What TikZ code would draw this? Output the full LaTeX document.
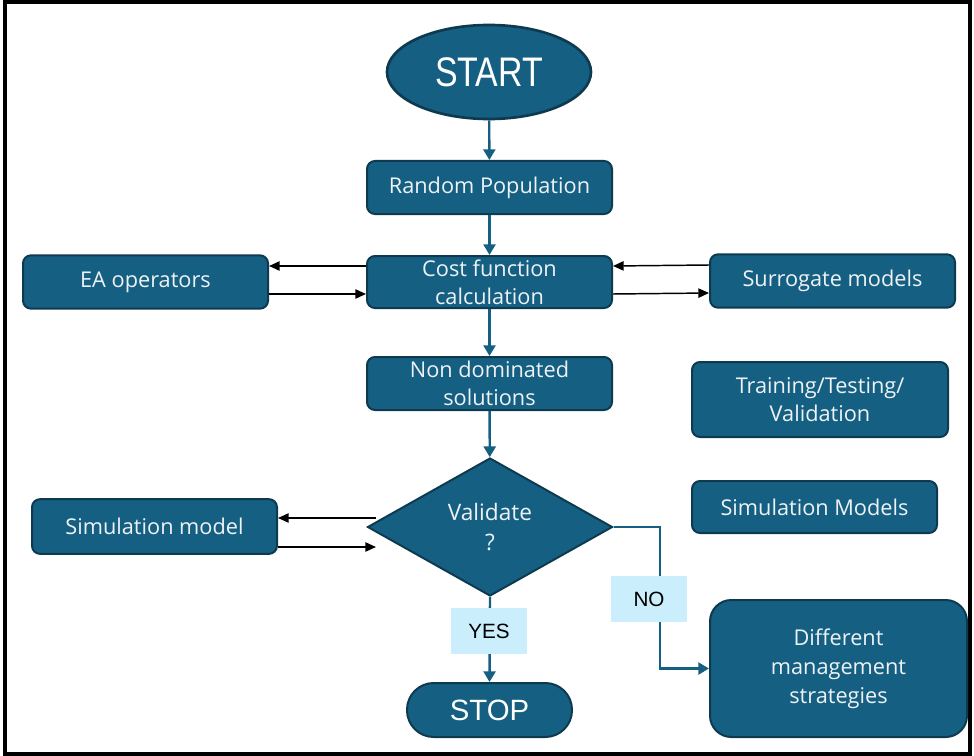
\documentclass[tikz,border=0pt]{standalone}
\usepackage{fontspec}
\setmainfont{Open Sans}
\newfontfamily\arialfont{Liberation Sans}
\newfontfamily\narrowfont[FakeStretch=0.82]{Liberation Sans}
\usetikzlibrary{shapes.geometric,arrows.meta}
\definecolor{boxfill}{HTML}{156082}
\definecolor{boxedge}{HTML}{0E3A50}
\definecolor{lblfill}{HTML}{CAEEFB}
\definecolor{txt}{HTML}{EEF2F5}
\tikzset{
  box/.style={draw=boxedge, line width=1.5pt, fill=boxfill, rounded corners=6pt, text=txt,
    font=\fontsize{16.3}{21}\selectfont, align=center, inner sep=0pt},
  flow/.style={draw=boxfill, line width=1.8pt, -{Triangle[length=8pt,width=9pt]}},
  side/.style={draw=black, line width=1.1pt, -{Triangle[length=8pt,width=7pt]}},
  lbl/.style={fill=lblfill, text=black, font=\arialfont\fontsize{15.5}{18}\selectfont,
    inner sep=0pt, minimum width=57pt, minimum height=34.5pt}
}
\begin{document}
\begin{tikzpicture}[x=0.75pt,y=-0.75pt]
\useasboundingbox (0,0) rectangle (974,756);
\draw[line width=3pt] (5,2.5) rectangle (970,753.5);

\node[ellipse, draw=boxedge, fill=boxfill, line width=2pt, minimum width=153pt, minimum height=70.5pt,
  inner sep=0pt, text=white, font=\narrowfont\fontsize{31}{31}\selectfont] (start) at (489,72) {START};

\node[box, minimum width=183.75pt, minimum height=39.75pt] (rand) at (489.5,187.5) {Random Population};
\node[box, minimum width=183.75pt, minimum height=39pt] (cost) at (489.5,282) {Cost function\\calculation};
\node[box, minimum width=183.75pt, minimum height=40pt] (ea) at (145.5,282) {EA operators};
\node[box, minimum width=183.75pt, minimum height=40pt] (surr) at (832.5,281) {Surrogate models};
\node[box, minimum width=183.75pt, minimum height=39.75pt] (nond) at (489.5,383.5) {Non dominated\\solutions};
\node[box, minimum width=192pt, minimum height=56.25pt] (train) at (820,399.5) {Training/Testing/\\Validation};
\node[box, minimum width=183.75pt, minimum height=39pt] (simM) at (814.5,507) {Simulation Models};
\node[box, minimum width=183.75pt, minimum height=41pt] (sim) at (154.5,526.5) {Simulation model};

\node[diamond, draw=boxedge, line width=1.5pt, fill=boxfill, minimum width=183.75pt, minimum height=103.5pt,
  inner sep=0pt, text=txt, align=center, font=\fontsize{17}{22.5}\selectfont] (val) at (490,527) {Validate\\?};

\node[box, rounded corners=16pt, minimum width=192.75pt, minimum height=102.75pt,
  font=\fontsize{16.3}{21.75}\selectfont] (diff) at (838.5,668.5) {Different\\management\\strategies};

\node[draw=boxedge, fill=boxfill, line width=1.5pt, rounded corners=20pt, minimum width=123.75pt,
  minimum height=40.5pt, inner sep=0pt, text=white, font=\arialfont\fontsize{22}{22}\selectfont] (stop) at (489.5,710) {STOP};

% main flow
\draw[flow] (start) -- (rand);
\draw[flow] (rand) -- (cost);
\draw[flow] (cost) -- (nond);
\draw[flow] (nond) -- (val);
\draw[flow] (val.south) -- (stop.north);
\coordinate (nobend) at (660,527);
\draw[flow] (val.east) -- (nobend) |- (diff.west);

% side arrows
\draw[side] ([yshift=12pt]cost.west) -- ([yshift=12pt]ea.east);
\draw[side] ([yshift=-9pt]ea.east) -- ([yshift=-9pt]cost.west);
\draw[side] ([yshift=12pt]surr.west) -- ([yshift=12pt]cost.east);
\draw[side] ([yshift=-9pt]cost.east) -- ([yshift=-9pt]surr.west);
\coordinate (vin) at (376,518);
\coordinate (vout) at (376,547);
\draw[side] (vin) -- (sim.east |- vin);
\draw[side] (sim.east |- vout) -- (vout);

% labels
\node[lbl] (yes) at (489,631) {YES};
\node[lbl] (no) at (649,599) {NO};
\end{tikzpicture}
\end{document}
